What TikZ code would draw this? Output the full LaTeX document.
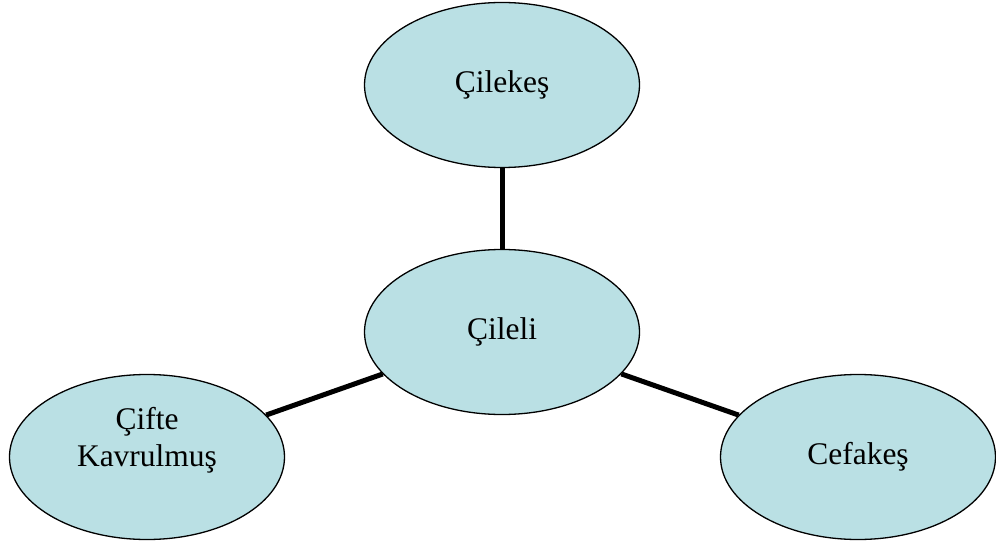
\documentclass[tikz,border=0pt]{standalone}
\usepackage{fontspec}
\setmainfont{Liberation Serif}
\usetikzlibrary{shapes.geometric}
\definecolor{bubblefill}{RGB}{186,224,228}
\begin{document}
\begin{tikzpicture}[x=1pt,y=-1pt,
  bubble/.style={ellipse,draw=black,line width=1.3pt,fill=bubblefill,
    minimum width=275pt,minimum height=165pt,inner sep=0pt,
    font=\fontsize{31.5}{37}\selectfont,align=center},
  link/.style={line width=5pt,draw=black}]
\useasboundingbox (0,0) rectangle (996,548);
\node[bubble] (top) at (502,85) {Çilekeş};
\node[bubble] (mid) at (502,332) {Çileli};
\node[bubble,label={[font=\fontsize{31.5}{37}\selectfont,align=center,yshift=17pt]center:Çifte\\Kavrulmuş}] (left) at (147,457) {};
\node[bubble] (right) at (858,457) {Cefakeş};
\draw[link] (top) -- (mid);
\draw[link] (mid) -- (left);
\draw[link] (mid) -- (right);
\end{tikzpicture}
\end{document}
